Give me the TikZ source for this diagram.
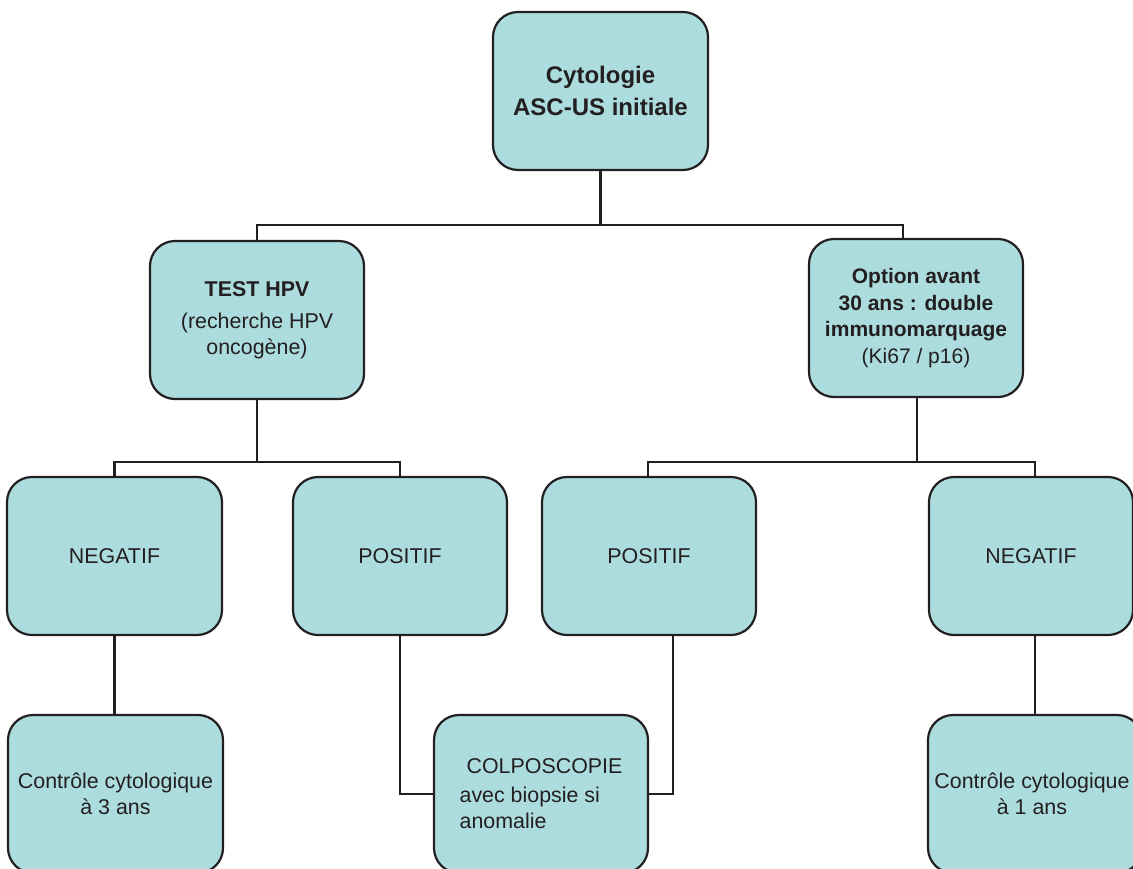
\documentclass[tikz,border=0pt]{standalone}
\usepackage{fontspec}
\setmainfont{Liberation Sans}
\usetikzlibrary{calc}
\definecolor{boxfill}{RGB}{172,220,222}
\definecolor{ink}{RGB}{35,31,32}
\tikzset{
  box/.style={draw=ink, line width=2.2pt, fill=boxfill, rounded corners=25pt,
    minimum width=214pt, minimum height=158pt, inner sep=0pt, align=center,
    text=ink, font=\fontsize{21.4}{26}\selectfont},
  link/.style={draw=ink, line width=2.4pt},
}
\begin{document}
\begin{tikzpicture}[x=1pt,y=-1pt]
\useasboundingbox (0,0) rectangle (1133,868);
\clip (0,0) rectangle (1133,868);
\node[box, minimum width=215pt, font=\fontsize{24}{32}\selectfont\bfseries] (top) at (600.5,91) {Cytologie\\ASC-US initiale};
\node[box] (hpv) at (257,320) {\textbf{TEST HPV}\\[6pt](recherche HPV\\oncogène)};
\node[box, font=\fontsize{21}{26.5}\selectfont] (opt) at (916,318) {\textbf{Option avant}\\\textbf{30 ans : double}\\\textbf{immunomarquage}\\(Ki67 / p16)};
\node[box, minimum width=215pt] (negL) at (114.5,556) {NEGATIF};
\node[box] (posL) at (400,556) {POSITIF};
\node[box] (posR) at (649,556) {POSITIF};
\node[box, minimum width=204pt] (negR) at (1031,556) {NEGATIF};
\node[box, minimum width=215pt] (cL) at (115.5,794) {Contrôle cytologique\\à 3 ans};
\node[box, align=left] (colpo) at (541,794) {\hspace*{7pt}COLPOSCOPIE\\[3pt]avec biopsie si\\anomalie};
\node[box] (cR) at (1035,794) {\hspace*{-6pt}Contrôle cytologique\\\hspace*{-6pt}à 1 ans};

\coordinate (j1) at (600.5,225);
\draw[link] (top.south) -- (j1);
\draw[link] (j1) -| (hpv.north);
\draw[link] (j1) -| ($(opt.north)+(-13,0)$);

\coordinate (j2) at (257,462);
\draw[link] (hpv.south) -- (j2);
\draw[link] (j2) -| (negL.north);
\draw[link] (j2) -| (posL.north);

\coordinate (j3) at (917,462);
\draw[link] ($(opt.south)+(1,0)$) -- (j3);
\draw[link] (j3) -| ($(posR.north)+(-1,0)$);
\draw[link] (j3) -| ($(negR.north)+(4,0)$);

\draw[link] (negL.south) -- (negL.south |- cL.north);
\draw[link] (posL.south) |- (colpo.west);
\draw[link] ($(posR.south)+(24,0)$) |- (colpo.east);
\draw[link] ($(negR.south)+(4,0)$) coordinate (nr) -- (nr |- cR.north);
\end{tikzpicture}
\end{document}
